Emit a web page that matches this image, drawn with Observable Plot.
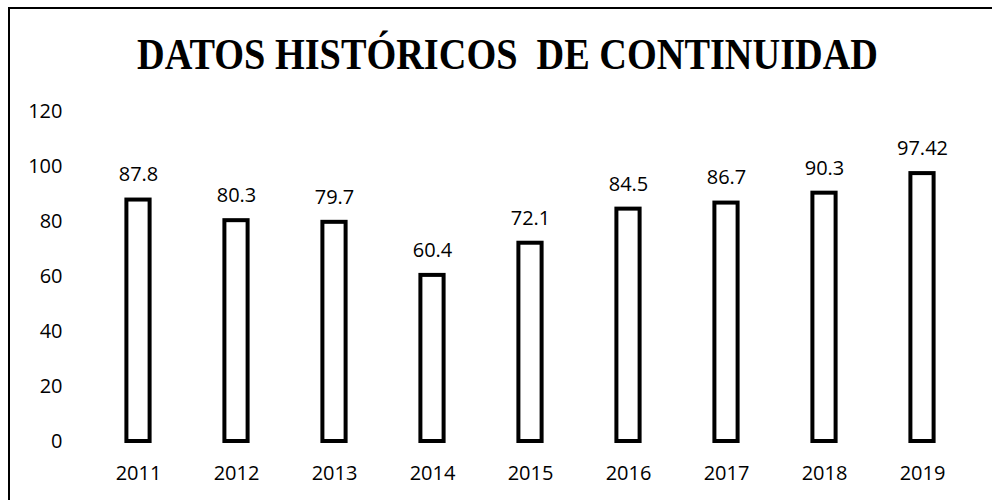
<!DOCTYPE html>
<html>
<head>
<meta charset="utf-8">
<script src="https://cdn.jsdelivr.net/npm/d3@7"></script>
<script src="https://cdn.jsdelivr.net/npm/@observablehq/plot@0.6"></script>
<style>
  html, body { margin: 0; padding: 0; background: #fff; }
  #wrap { position: relative; width: 992px; height: 500px; overflow: hidden; }
  #frame { position: absolute; left: 8px; top: 7px; width: 990px; height: 500px;
           border-left: 2px solid #000; border-top: 2px solid #000; box-sizing: border-box; }
  #title { position: absolute; left: 0; top: 33px; width: 1015px; text-align: center;
           font-family: "Liberation Serif", serif; font-weight: bold; font-size: 44px;
           white-space: pre; color: #000; line-height: 1;
           transform: scaleX(0.87); transform-origin: 507.5px 0; }
  #chart { position: absolute; left: 0; top: 0; }
</style>
</head>
<body>
<div id="wrap">
  <div id="chart"></div>
  <div id="frame"></div>
  <div id="title">DATOS HISTÓRICOS  DE CONTINUIDAD</div>
</div>
<script>
const years = ["2011","2012","2013","2014","2015","2016","2017","2018","2019"];
const values = [87.8, 80.3, 79.7, 60.4, 72.1, 84.5, 86.7, 90.3, 97.42];
const labels = ["87.8","80.3","79.7","60.4","72.1","84.5","86.7","90.3","97.42"];
const yTicks = [0, 20, 40, 60, 80, 100, 120];

const data = years.map((y, i) => ({year: y, value: values[i], label: labels[i]}));

const font = "'Open Sans', sans-serif";
const plot = Plot.plot({
  width: 992,
  height: 500,
  marginLeft: 86,
  marginRight: 18,
  marginTop: 111,
  marginBottom: 59,
  style: {fontFamily: font, fontSize: "20px", color: "#000", background: "transparent"},
  x: {domain: years, padding: 0, label: null, tickSize: 0, tickPadding: 24},
  y: {domain: [0, 120], ticks: yTicks, label: null, tickSize: 0, tickPadding: 24},
  marks: [
    Plot.ruleY(yTicks, {stroke: "#777", strokeDasharray: "1.5,9", strokeWidth: 1.2, x1: 95, x2: 985}),
    Plot.barY(data, {x: "year", y: "value", fill: "white", stroke: "black", strokeWidth: 4,
                     insetLeft: 37.4, insetRight: 37.4}),
    Plot.text(data, {x: "year", y: "value", text: "label", dy: -25, fontSize: 20, fill: "#000"})
  ]
});
document.getElementById("chart").appendChild(plot);
</script>
</body>
</html>
